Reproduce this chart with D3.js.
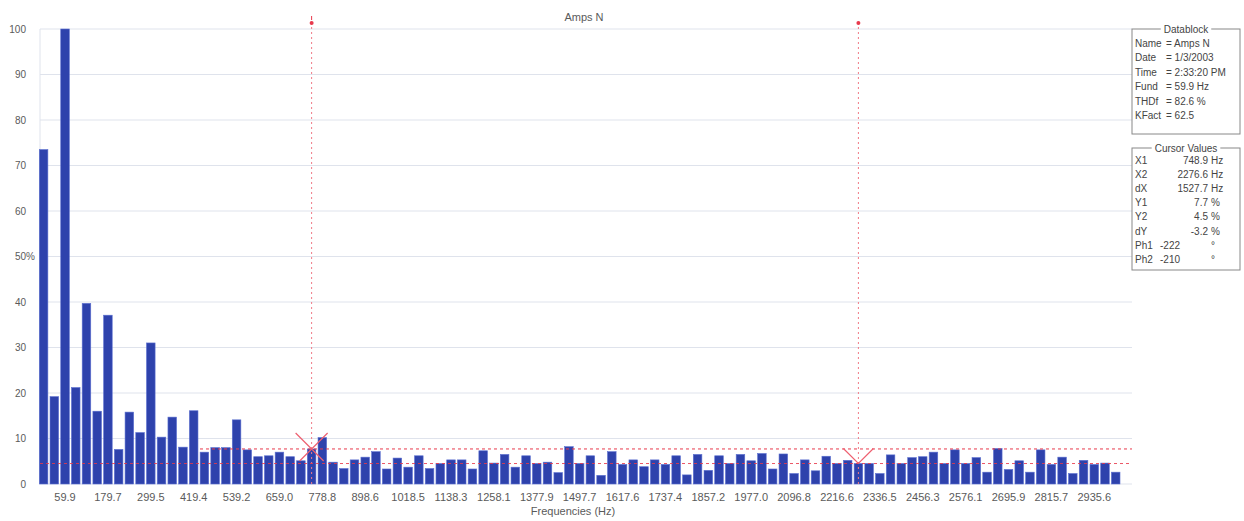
<!DOCTYPE html>
<html><head><meta charset="utf-8">
<script src="https://cdn.jsdelivr.net/npm/d3@7"></script>
<style>
html,body{margin:0;padding:0;background:#fff;}
svg{display:block;font-family:"Liberation Sans",Arial,sans-serif;}
</style></head>
<body>
<svg id="chart" width="1244" height="521"></svg>
<script>
// ---- data ----
const bins = d3.range(101); // harmonic bins (29.95 Hz apart)
const values = [73.5,19.2,100,21.2,39.7,16.0,37.1,7.6,15.8,11.3,
  31.0,10.3,14.7,8.1,16.1,7.0,8.0,8.0,14.1,7.5,
  6.0,6.2,7.0,6.0,5.1,7.7,10.2,4.8,3.4,5.3,
  5.9,7.1,3.3,5.7,3.7,6.2,3.4,4.5,5.3,5.3,
  3.3,7.3,4.6,6.5,3.7,6.2,4.5,4.8,2.5,8.2,
  4.5,6.2,1.9,7.1,4.3,5.3,3.8,5.3,4.3,6.2,
  2.0,6.5,3.0,6.2,4.5,6.5,5.1,6.7,3.3,6.6,
  2.3,5.3,2.9,6.1,4.5,5.2,4.5,4.5,2.3,6.4,
  4.5,5.8,6.0,7.0,4.5,7.5,4.5,5.8,2.6,7.8,
  3.2,5.1,2.6,7.5,4.3,5.9,2.3,5.2,4.3,4.6,2.6];
const tickBins = [2,6,10,14,18,22,26,30,34,38,42,46,50,54,58,62,66,70,74,78,82,86,90,94,98];
const tickLabels = ["59.9","179.7","299.5","419.4","539.2","659.0","778.8","898.6","1018.5","1138.3",
  "1258.1","1377.9","1497.7","1617.6","1737.4","1857.2","1977.0","2096.8","2216.6","2336.5",
  "2456.3","2576.1","2695.9","2815.7","2935.6"];
const yTicks = [0,10,20,30,40,50,60,70,80,90,100];
const cursorBins = [25, 76];
const cursorY = [7.7, 4.5];
const datablock = [["Name","= Amps N"],["Date","= 1/3/2003"],["Time","= 2:33:20 PM"],["Fund","= 59.9 Hz"],["THDf","= 82.6 %"],["KFact","= 62.5"]];
const cursorRows = [["X1","748.9","Hz"],["X2","2276.6","Hz"],["dX","1527.7","Hz"],["Y1","7.7","%"],["Y2","4.5","%"],["dY","-3.2","%"],["Ph1","-222","°"],["Ph2","-210","°"]];

// ---- layout ----
const svg = d3.select("#chart");
const plotL = 40, plotR = 1132, plotT = 29, plotB = 484;
const x = d3.scaleBand().domain(bins).range([39.3, 1120]).paddingInner(0.2).paddingOuter(0);
const y = d3.scaleLinear().domain([0,100]).range([plotB, plotT]);
const grey = "#5a5a5a";

// grid
svg.append("g").selectAll("line").data(yTicks).join("line")
  .attr("x1", plotL).attr("x2", plotR)
  .attr("y1", d=>y(d)).attr("y2", d=>y(d))
  .attr("stroke", "#dfe3ec").attr("stroke-width", 1);
svg.append("line").attr("x1", plotL).attr("x2", plotL).attr("y1", plotT).attr("y2", plotB)
  .attr("stroke", "#dfe3ec");

// y labels
const yl = svg.append("g").attr("font-size", 10).attr("fill", grey);
yl.selectAll("text").data(yTicks).join("text")
  .attr("x", 26).attr("y", d=>y(d)+3.5).attr("text-anchor","end").text(d=>d);
yl.append("text").attr("x", 26).attr("y", y(50)+3.5).text("%");

// bars
svg.append("g").selectAll("rect").data(bins).join("rect")
  .attr("x", d=>x(d)).attr("width", x.bandwidth())
  .attr("y", d=>y(values[d])).attr("height", d=>plotB - y(values[d]))
  .attr("fill", "#2e42ac").attr("stroke", "#5b6fd0").attr("stroke-width", 0.6);

// x axis
const xa = svg.append("g").attr("transform", `translate(0,${plotB})`)
  .call(d3.axisBottom(x).tickValues(tickBins).tickFormat((d,i)=>tickLabels[i]).tickSize(0).tickPadding(9));
xa.select(".domain").remove();
xa.selectAll("text").attr("font-size", 11).attr("fill", grey).attr("font-family", "Liberation Sans, Arial, sans-serif");

svg.append("text").attr("x", 573).attr("y", 515).attr("text-anchor","middle")
  .attr("font-size", 11).attr("fill", grey).text("Frequencies (Hz)");
svg.append("text").attr("x", 584).attr("y", 21).attr("text-anchor","middle")
  .attr("font-size", 11).attr("fill", grey).text("Amps N");

// cursors
const red = "#e8394c";
const cx = cursorBins.map(b => x(b) + x.bandwidth()/2);
const cg = svg.append("g");
cx.forEach(v => {
  cg.append("line").attr("x1", v).attr("x2", v).attr("y1", 22).attr("y2", plotB)
    .attr("stroke", "#f07a86").attr("stroke-width", 1).attr("stroke-dasharray", "2,3");
  cg.append("circle").attr("cx", v).attr("cy", 23).attr("r", 2).attr("fill", red);
});
cg.append("line").attr("x1", cx[0]).attr("x2", cx[0]).attr("y1", 16).attr("y2", 20).attr("stroke", red);
cg.append("line").attr("x1", 200).attr("x2", plotR).attr("y1", y(cursorY[0])).attr("y2", y(cursorY[0]))
  .attr("stroke", red).attr("stroke-width", 1).attr("stroke-dasharray", "3,3");
cg.append("line").attr("x1", plotL).attr("x2", plotR).attr("y1", y(cursorY[1])).attr("y2", y(cursorY[1]))
  .attr("stroke", red).attr("stroke-width", 1).attr("stroke-dasharray", "3,3").attr("opacity", 0.85);
// X marker at cursor 1
const m1x = cx[0], m1y = y(cursorY[0]);
cg.append("path").attr("d", `M${m1x-16},${m1y-16}L${m1x+12},${m1y+12}M${m1x+16},${m1y-16}L${m1x-12},${m1y+12}`)
  .attr("stroke", "#ee6070").attr("stroke-width", 1.2).attr("fill", "none");
// V marker at cursor 2
const m2x = cx[1], m2y = y(cursorY[1]);
cg.append("path").attr("d", `M${m2x-15},${m2y-15}L${m2x},${m2y}L${m2x+15},${m2y-15}`)
  .attr("stroke", "#ee6070").attr("stroke-width", 1.2).attr("fill", "none");

// datablock boxes
function box(x0, y0, x1, y1, title) {
  const g = svg.append("g");
  g.append("rect").attr("x", x0).attr("y", y0).attr("width", x1-x0).attr("height", y1-y0)
    .attr("fill", "none").attr("stroke", "#888").attr("stroke-width", 1);
  const cxm = (x0+x1)/2;
  const t = g.append("text").attr("x", cxm).attr("y", y0+3.5).attr("text-anchor","middle")
    .attr("font-size", 10).attr("fill", "#444").text(title);
  const w = t.node().getComputedTextLength();
  g.insert("rect", "text").attr("x", cxm - w/2 - 3).attr("y", y0-2).attr("width", w+6).attr("height", 4).attr("fill", "#fff");
  return g;
}
const db = box(1132, 29, 1240, 134, "Datablock");
db.selectAll("text.row").data(datablock).join("text").attr("class","row")
  .attr("font-size", 10).attr("fill", "#444")
  .attr("y", (d,i)=>46.5 + i*14.5)
  .call(t => {
    t.append("tspan").attr("x", 1135).text(d=>d[0]);
    t.append("tspan").attr("x", 1166).text(d=>d[1]);
  });
const cv = box(1132, 148, 1240, 270, "Cursor Values");
const rows = cv.selectAll("g.row").data(cursorRows).join("g").attr("class","row")
  .attr("font-size", 10).attr("fill", "#444");
rows.append("text").attr("x", 1135).attr("y", (d,i)=>164 + i*14.1).text(d=>d[0]);
rows.append("text").attr("x", (d,i)=> i>=6 ? 1160 : 1208).attr("text-anchor", (d,i)=> i>=6 ? "start" : "end")
  .attr("y", (d,i)=>164 + i*14.1).text(d=>d[1]);
rows.append("text").attr("x", 1211).attr("y", (d,i)=>164 + i*14.1).text(d=>d[2]);
</script>
</body></html>
